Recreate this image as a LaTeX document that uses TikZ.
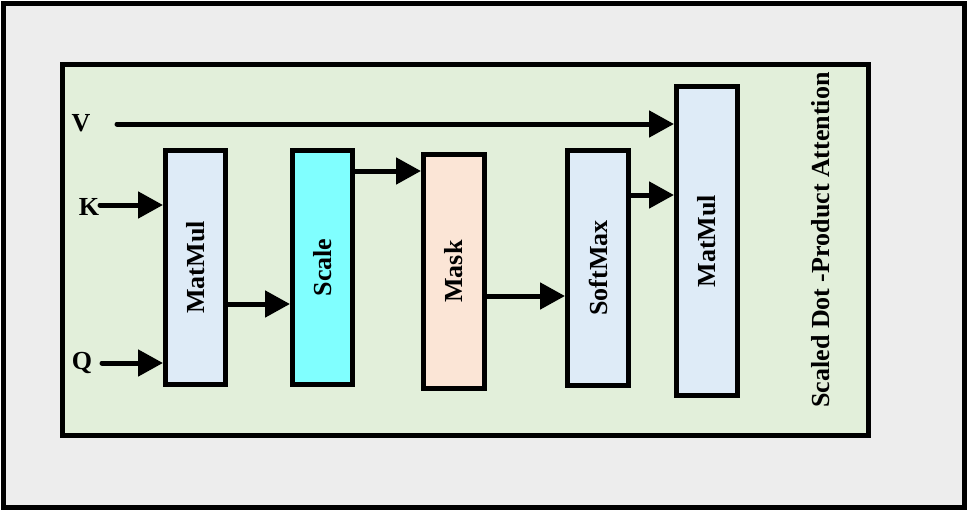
\documentclass[tikz,border=0pt]{standalone}
\usepackage{fontspec}
\setmainfont{Liberation Serif}
\usepackage{graphicx}
\usetikzlibrary{arrows.meta}
\definecolor{outergray}{HTML}{EDEDED}
\definecolor{greenbg}{HTML}{E2EFDA}
\definecolor{lblue}{HTML}{DEEBF7}
\definecolor{scalecyan}{HTML}{80FFFF}
\definecolor{peach}{HTML}{FBE5D6}
\tikzset{
  blk/.style={draw=black, line width=5pt, rectangle, inner sep=0pt,
    font=\fontsize{26}{30}\selectfont\bfseries},
  lbl/.style={inner sep=0pt, anchor=base, font=\fontsize{26}{30}\selectfont\bfseries},
  arr/.style={line width=5pt, line cap=round, -{Triangle[length=25pt,width=26pt]}},
  frame/.style={draw=black, line width=5pt}
}
\begin{document}
\begin{tikzpicture}[x=1pt,y=-1pt]
\useasboundingbox (0,0) rectangle (968,512);
% outer frame
\draw[frame, fill=outergray] (3.5,3.5) rectangle (964.5,507.5);
% inner green frame
\draw[frame, fill=greenbg] (62.5,64) rectangle (868.5,435.5);
% blocks
\node[blk, fill=lblue, minimum width=60pt, minimum height=234pt] (mm1) at (195.5,267.5) {\rotatebox{90}{MatMul}};
\node[blk, fill=scalecyan, minimum width=60pt, minimum height=234pt] (scale) at (322.5,267.5) {\rotatebox{90}{Scale}};
\node[blk, fill=peach, minimum width=61pt, minimum height=234pt] (mask) at (454,271.5) {\rotatebox{90}{Mask}};
\node[blk, fill=lblue, minimum width=61pt, minimum height=235pt] (soft) at (598,268) {\rotatebox{90}{SoftMax}};
\node[blk, fill=lblue, minimum width=61pt, minimum height=309pt] (mm2) at (707,241) {\rotatebox{90}{MatMul}};
% input labels
\node[lbl] (V) at (81,131) {V};
\node[lbl] (K) at (89,215) {K};
\node[lbl] (Q) at (82,369) {Q};
% title
\node[inner sep=0pt, rotate=90, font=\fontsize{26}{30}\selectfont\bfseries] (title) at (821,240) {Scaled Dot -Product Attention};
% connectors
\coordinate (vs) at (117,124);
\draw[arr] (vs) -- (mm2.west |- vs);
\coordinate (ks) at (100,205);
\draw[arr] (ks) -- (mm1.west |- ks);
\coordinate (qs) at (102,363);
\draw[arr] (qs) -- (mm1.west |- qs);
\coordinate (a1) at (228,304);
\draw[arr] (mm1.east |- a1) -- (scale.west |- a1);
\coordinate (a2) at (355,171);
\draw[arr] (scale.east |- a2) -- (mask.west |- a2);
\coordinate (a3) at (487,296);
\draw[arr] (mask.east |- a3) -- (soft.west |- a3);
\coordinate (a4) at (631,195);
\draw[arr] (soft.east |- a4) -- (mm2.west |- a4);
\end{tikzpicture}
\end{document}
